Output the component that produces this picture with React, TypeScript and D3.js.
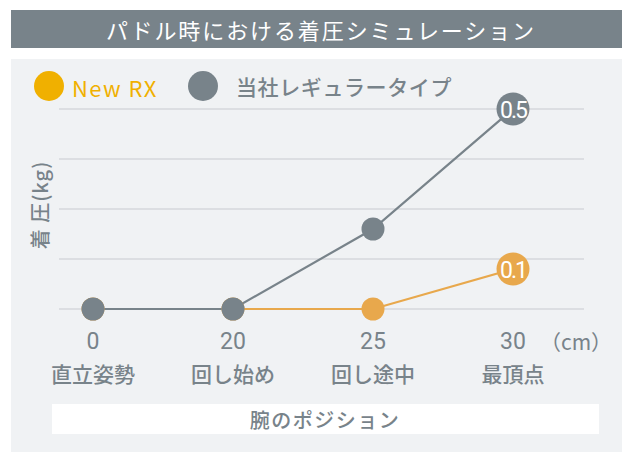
import React from "react";
import * as d3 from "d3";

const title = "パドル時における着圧シミュレーション";
const positions = ["0", "20", "25", "30"];
const positionLabels = ["直立姿勢", "回し始め", "回し途中", "最頂点"];
const newRX = [0, 0, 0, 0.1];
const regular = [0, 0, 0.2, 0.5];
const seriesNames = ["New RX", "当社レギュラータイプ"];
const gridTicks = [0, 0.125, 0.25, 0.375, 0.5];
const yLabel = "着 圧(kg)";
const xUnit = "（cm）";
const xTitle = "腕のポジション";

const W = 622;
const H = 452;
const GRAY = "#78838a";
const ORANGE_LINE = "#e8a84c";
const ORANGE_LEGEND = "#f0b000";
const JP = "'Noto Sans CJK JP', 'Noto Sans', sans-serif";
const NUM = "Roboto, 'Noto Sans', sans-serif";

export default function App() {
  const x = d3.scalePoint<string>().domain(positions).range([93, 513]);
  const y = d3.scaleLinear().domain([0, 0.5]).range([309, 109]);
  const line = d3
    .line<number>()
    .x((_, i) => x(positions[i]) as number)
    .y((d) => y(d));

  const lastIdx = positions.length - 1;

  return (
    <svg
      width={W}
      height={H}
      style={{ position: "absolute", left: 0, top: 0, display: "block" }}
    >
      <rect x={0} y={0} width={W} height={H} fill="#ffffff" />
      {/* title bar */}
      <rect x={11} y={10} width={W - 11} height={38} fill={GRAY} />
      <text
        x={321}
        y={29}
        fill="#ffffff"
        fontFamily={JP}
        fontSize={22}
        fontWeight={400}
        textAnchor="middle"
        dominantBaseline="central"
        letterSpacing={1.9}
      >
        {title}
      </text>
      {/* panel */}
      <rect x={11} y={59} width={W - 11} height={H - 59} fill="#f0f2f4" />

      {/* legend */}
      <circle cx={49} cy={86} r={15} fill={ORANGE_LEGEND} />
      <text
        x={72}
        y={87}
        fill={ORANGE_LEGEND}
        fontFamily={JP}
        fontSize={22}
        fontWeight={400}
        dominantBaseline="central"
        letterSpacing={1.4}
      >
        {seriesNames[0]}
      </text>
      <circle cx={203} cy={86} r={15} fill={GRAY} />
      <text
        x={236}
        y={86}
        fill={GRAY}
        fontFamily={JP}
        fontSize={21}
        fontWeight={500}
        dominantBaseline="central"
        letterSpacing={0.6}
      >
        {seriesNames[1]}
      </text>

      {/* grid */}
      {gridTicks.map((t) => (
        <line
          key={t}
          x1={59}
          x2={584}
          y1={y(t)}
          y2={y(t)}
          stroke="#dcdee2"
          strokeWidth={2}
        />
      ))}

      {/* y label */}
      <text
        transform={`translate(39,205) rotate(-90)`}
        fill={GRAY}
        fontFamily={JP}
        fontSize={20}
        fontWeight={500}
        textAnchor="middle"
        dominantBaseline="central"
        letterSpacing={1}
      >
        {yLabel}
      </text>

      {/* lines */}
      <path d={line(newRX) || ""} fill="none" stroke={ORANGE_LINE} strokeWidth={2.2} />
      <path d={line(regular) || ""} fill="none" stroke={GRAY} strokeWidth={2.2} />

      {/* markers */}
      {newRX.map((v, i) =>
        i === lastIdx ? null : (
          <circle key={"o" + i} cx={x(positions[i])} cy={y(v)} r={11.5} fill={ORANGE_LINE} />
        )
      )}
      {regular.map((v, i) =>
        i === lastIdx ? null : (
          <circle key={"g" + i} cx={x(positions[i])} cy={y(v)} r={11.5} fill={GRAY} />
        )
      )}
      {/* value bubbles */}
      <circle cx={x(positions[lastIdx])} cy={y(regular[lastIdx])} r={16.5} fill={GRAY} />
      <text
        x={x(positions[lastIdx])}
        y={y(regular[lastIdx]) + 1}
        fill="#ffffff"
        fontFamily={NUM}
        fontSize={23}
        fontWeight={400}
        textAnchor="middle"
        dominantBaseline="central"
        letterSpacing={-2}
      >
        {String(regular[lastIdx])}
      </text>
      <circle cx={x(positions[lastIdx])} cy={y(newRX[lastIdx])} r={16.5} fill={ORANGE_LINE} />
      <text
        x={x(positions[lastIdx])}
        y={y(newRX[lastIdx]) + 1}
        fill="#ffffff"
        fontFamily={NUM}
        fontSize={23}
        fontWeight={400}
        textAnchor="middle"
        dominantBaseline="central"
        letterSpacing={-2}
      >
        {String(newRX[lastIdx])}
      </text>

      {/* x tick labels */}
      {positions.map((p) => (
        <text
          key={p}
          x={x(p)}
          y={341}
          fill={GRAY}
          fontFamily={NUM}
          fontSize={23}
          textAnchor="middle"
          dominantBaseline="central"
        >
          {p}
        </text>
      ))}
      <text
        x={576}
        y={341}
        fill={GRAY}
        fontFamily={JP}
        fontSize={21}
        textAnchor="middle"
        dominantBaseline="central"
      >
        {xUnit}
      </text>
      {positionLabels.map((l, i) => (
        <text
          key={l}
          x={x(positions[i])}
          y={373}
          fill={GRAY}
          fontFamily={JP}
          fontSize={21}
          fontWeight={500}
          textAnchor="middle"
          dominantBaseline="central"
        >
          {l}
        </text>
      ))}

      {/* x title box */}
      <rect x={52} y={404} width={547} height={30} fill="#ffffff" />
      <text
        x={325}
        y={419}
        fill={GRAY}
        fontFamily={JP}
        fontSize={20}
        fontWeight={500}
        textAnchor="middle"
        dominantBaseline="central"
        letterSpacing={1.5}
      >
        {xTitle}
      </text>
    </svg>
  );
}
